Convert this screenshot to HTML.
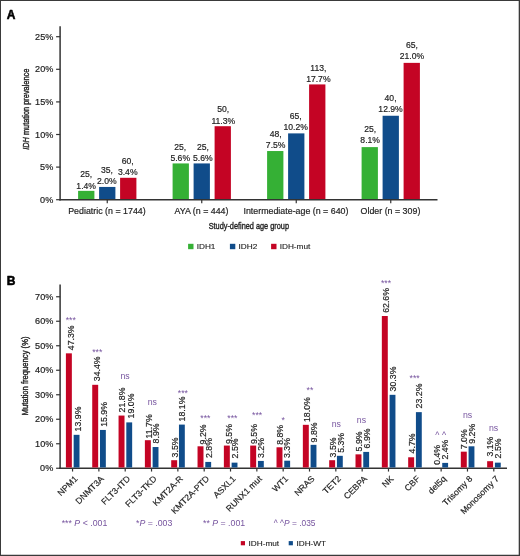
<!DOCTYPE html>
<html><head><meta charset="utf-8"><title>Figure</title>
<style>
html,body{margin:0;padding:0;background:#fff;}
body{width:520px;height:556px;overflow:hidden;position:relative;font-family:"Liberation Sans",sans-serif;}
svg{position:absolute;left:0;top:0;display:block;will-change:transform;opacity:0.999}
text{font-family:"Liberation Sans",sans-serif;fill:#222;}
.t{font-size:8.6px;stroke:#222;stroke-width:0.18px;}
.l{font-size:8px;stroke:#222;stroke-width:0.12px;}
.c{font-size:9.7px;stroke:#222;stroke-width:0.38px;}
.p{font-size:12px;font-weight:bold;fill:#000;stroke:#000;stroke-width:0.55px;stroke-linejoin:round;}
.s{font-size:8.6px;fill:#77559f;}
</style></head><body>
<svg width="520" height="556" viewBox="0 0 520 556">
<rect x="0" y="0" width="520" height="556" fill="#fff"/>
<line x1="60.1" y1="26.2" x2="60.1" y2="200.45" stroke="#333" stroke-width="1.5"/>
<line x1="59.35" y1="199.7" x2="437.5" y2="199.7" stroke="#333" stroke-width="1.5"/>
<line x1="56.1" y1="199.70" x2="60.1" y2="199.70" stroke="#333" stroke-width="1.2"/>
<text transform="translate(53.30,202.80) scale(1.06,1)" text-anchor="end" class="t">0%</text>
<line x1="56.1" y1="167.10" x2="60.1" y2="167.10" stroke="#333" stroke-width="1.2"/>
<text transform="translate(53.30,170.20) scale(1.06,1)" text-anchor="end" class="t">5%</text>
<line x1="56.1" y1="134.50" x2="60.1" y2="134.50" stroke="#333" stroke-width="1.2"/>
<text transform="translate(53.30,137.60) scale(1.06,1)" text-anchor="end" class="t">10%</text>
<line x1="56.1" y1="101.90" x2="60.1" y2="101.90" stroke="#333" stroke-width="1.2"/>
<text transform="translate(53.30,105.00) scale(1.06,1)" text-anchor="end" class="t">15%</text>
<line x1="56.1" y1="69.30" x2="60.1" y2="69.30" stroke="#333" stroke-width="1.2"/>
<text transform="translate(53.30,72.40) scale(1.06,1)" text-anchor="end" class="t">20%</text>
<line x1="56.1" y1="36.70" x2="60.1" y2="36.70" stroke="#333" stroke-width="1.2"/>
<text transform="translate(53.30,39.80) scale(1.06,1)" text-anchor="end" class="t">25%</text>
<line x1="107.25" y1="199.7" x2="107.25" y2="203.2" stroke="#333" stroke-width="1.2"/>
<text transform="translate(106.95,213.90) scale(1.03,1)" text-anchor="middle" class="t">Pediatric (n = 1744)</text>
<rect x="78.10" y="190.86" width="16.3" height="8.14" fill="#35b035"/>
<text transform="translate(86.15,177.40) scale(1.0,1)" text-anchor="middle" class="t">25,</text>
<text transform="translate(86.15,188.50) scale(1.0,1)" text-anchor="middle" class="t">1.4%</text>
<rect x="99.10" y="186.94" width="16.3" height="12.06" fill="#104c8a"/>
<text transform="translate(106.85,173.40) scale(1.0,1)" text-anchor="middle" class="t">35,</text>
<text transform="translate(106.85,184.20) scale(1.0,1)" text-anchor="middle" class="t">2.0%</text>
<rect x="120.10" y="177.80" width="16.3" height="21.20" fill="#c40424"/>
<text transform="translate(127.75,164.20) scale(1.0,1)" text-anchor="middle" class="t">60,</text>
<text transform="translate(127.75,174.60) scale(1.0,1)" text-anchor="middle" class="t">3.4%</text>
<line x1="201.75" y1="199.7" x2="201.75" y2="203.2" stroke="#333" stroke-width="1.2"/>
<text transform="translate(201.45,213.90) scale(1.03,1)" text-anchor="middle" class="t">AYA (n = 444)</text>
<rect x="172.60" y="163.43" width="16.3" height="35.57" fill="#35b035"/>
<text transform="translate(180.25,149.70) scale(1.0,1)" text-anchor="middle" class="t">25,</text>
<text transform="translate(180.25,160.50) scale(1.0,1)" text-anchor="middle" class="t">5.6%</text>
<rect x="193.60" y="163.43" width="16.3" height="35.57" fill="#104c8a"/>
<text transform="translate(202.85,149.70) scale(1.0,1)" text-anchor="middle" class="t">25,</text>
<text transform="translate(202.85,160.50) scale(1.0,1)" text-anchor="middle" class="t">5.6%</text>
<rect x="214.60" y="126.21" width="16.3" height="72.79" fill="#c40424"/>
<text transform="translate(223.25,112.20) scale(1.0,1)" text-anchor="middle" class="t">50,</text>
<text transform="translate(223.25,123.50) scale(1.0,1)" text-anchor="middle" class="t">11.3%</text>
<line x1="296.25" y1="199.7" x2="296.25" y2="203.2" stroke="#333" stroke-width="1.2"/>
<text transform="translate(295.95,213.90) scale(1.03,1)" text-anchor="middle" class="t">Intermediate-age (n = 640)</text>
<rect x="267.10" y="151.03" width="16.3" height="47.98" fill="#35b035"/>
<text transform="translate(275.65,137.30) scale(1.0,1)" text-anchor="middle" class="t">48,</text>
<text transform="translate(275.65,147.60) scale(1.0,1)" text-anchor="middle" class="t">7.5%</text>
<rect x="288.10" y="133.39" width="16.3" height="65.61" fill="#104c8a"/>
<text transform="translate(295.75,119.40) scale(1.0,1)" text-anchor="middle" class="t">65,</text>
<text transform="translate(295.75,129.60) scale(1.0,1)" text-anchor="middle" class="t">10.2%</text>
<rect x="309.10" y="84.42" width="16.3" height="114.58" fill="#c40424"/>
<text transform="translate(318.35,70.80) scale(1.0,1)" text-anchor="middle" class="t">113,</text>
<text transform="translate(318.35,81.60) scale(1.0,1)" text-anchor="middle" class="t">17.7%</text>
<line x1="390.75" y1="199.7" x2="390.75" y2="203.2" stroke="#333" stroke-width="1.2"/>
<text transform="translate(390.45,213.90) scale(1.03,1)" text-anchor="middle" class="t">Older (n = 309)</text>
<rect x="361.60" y="147.11" width="16.3" height="51.89" fill="#35b035"/>
<text transform="translate(370.15,132.30) scale(1.0,1)" text-anchor="middle" class="t">25,</text>
<text transform="translate(370.15,142.80) scale(1.0,1)" text-anchor="middle" class="t">8.1%</text>
<rect x="382.60" y="115.76" width="16.3" height="83.24" fill="#104c8a"/>
<text transform="translate(390.55,100.80) scale(1.0,1)" text-anchor="middle" class="t">40,</text>
<text transform="translate(390.55,111.85) scale(1.0,1)" text-anchor="middle" class="t">12.9%</text>
<rect x="403.60" y="62.87" width="16.3" height="136.13" fill="#c40424"/>
<text transform="translate(411.95,47.60) scale(1.0,1)" text-anchor="middle" class="t">65,</text>
<text transform="translate(411.95,58.85) scale(1.0,1)" text-anchor="middle" class="t">21.0%</text>
<text transform="translate(29.00,109.25) rotate(-90) scale(0.762,1)" text-anchor="middle" class="c"><tspan font-style="italic">IDH</tspan> mutation prevalence</text>
<text transform="translate(248.80,229.00) scale(0.757,1)" text-anchor="middle" class="c">Study-defined age group</text>
<rect x="188.1" y="243.80" width="5.4" height="5.4" fill="#35b035"/>
<text transform="translate(196.70,249.30) scale(1.03,1)" class="l">IDH1</text>
<rect x="229.9" y="243.80" width="5.4" height="5.4" fill="#104c8a"/>
<text transform="translate(238.50,249.30) scale(1.03,1)" class="l">IDH2</text>
<rect x="271.1" y="243.80" width="5.4" height="5.4" fill="#c40424"/>
<text transform="translate(279.70,249.30) scale(1.03,1)" class="l">IDH-mut</text>
<text x="6.8" y="18.7" class="p">A</text>
<text x="6.8" y="285.2" class="p">B</text>
<line x1="60.1" y1="284.5" x2="60.1" y2="469.0" stroke="#333" stroke-width="1.5"/>
<line x1="59.35" y1="468.25" x2="507" y2="468.25" stroke="#333" stroke-width="1.5"/>
<line x1="56.1" y1="468.25" x2="60.1" y2="468.25" stroke="#333" stroke-width="1.2"/>
<text transform="translate(53.30,471.35) scale(1.06,1)" text-anchor="end" class="t">0%</text>
<line x1="56.1" y1="443.75" x2="60.1" y2="443.75" stroke="#333" stroke-width="1.2"/>
<text transform="translate(53.30,446.85) scale(1.06,1)" text-anchor="end" class="t">10%</text>
<line x1="56.1" y1="419.25" x2="60.1" y2="419.25" stroke="#333" stroke-width="1.2"/>
<text transform="translate(53.30,422.35) scale(1.06,1)" text-anchor="end" class="t">20%</text>
<line x1="56.1" y1="394.75" x2="60.1" y2="394.75" stroke="#333" stroke-width="1.2"/>
<text transform="translate(53.30,397.85) scale(1.06,1)" text-anchor="end" class="t">30%</text>
<line x1="56.1" y1="370.25" x2="60.1" y2="370.25" stroke="#333" stroke-width="1.2"/>
<text transform="translate(53.30,373.35) scale(1.06,1)" text-anchor="end" class="t">40%</text>
<line x1="56.1" y1="345.75" x2="60.1" y2="345.75" stroke="#333" stroke-width="1.2"/>
<text transform="translate(53.30,348.85) scale(1.06,1)" text-anchor="end" class="t">50%</text>
<line x1="56.1" y1="321.25" x2="60.1" y2="321.25" stroke="#333" stroke-width="1.2"/>
<text transform="translate(53.30,324.35) scale(1.06,1)" text-anchor="end" class="t">60%</text>
<line x1="56.1" y1="296.75" x2="60.1" y2="296.75" stroke="#333" stroke-width="1.2"/>
<text transform="translate(53.30,299.85) scale(1.06,1)" text-anchor="end" class="t">70%</text>
<rect x="65.90" y="353.34" width="5.95" height="114.16" fill="#c40424"/>
<rect x="73.65" y="434.83" width="5.85" height="32.67" fill="#104c8a"/>
<line x1="72.55" y1="468.25" x2="72.55" y2="471.55" stroke="#333" stroke-width="1.2"/>
<text transform="translate(73.65,350.20) rotate(-90) scale(1.02,1)" class="t">47.3%</text>
<text transform="translate(80.60,431.40) rotate(-90) scale(1.02,1)" class="t">13.9%</text>
<text transform="translate(78.15,479.30) rotate(-45) scale(1.02,1)" text-anchor="end" class="t">NPM1</text>
<text transform="translate(70.75,323.40) scale(1.02,1)" text-anchor="middle" class="s">***</text>
<rect x="92.23" y="384.81" width="5.95" height="82.69" fill="#c40424"/>
<rect x="99.98" y="429.95" width="5.85" height="37.55" fill="#104c8a"/>
<line x1="98.88" y1="468.25" x2="98.88" y2="471.55" stroke="#333" stroke-width="1.2"/>
<text transform="translate(100.40,381.20) rotate(-90) scale(1.02,1)" class="t">34.4%</text>
<text transform="translate(107.40,426.80) rotate(-90) scale(1.02,1)" class="t">15.9%</text>
<text transform="translate(104.48,479.30) rotate(-45) scale(1.02,1)" text-anchor="end" class="t">DNMT3A</text>
<text transform="translate(97.25,355.15) scale(1.02,1)" text-anchor="middle" class="s">***</text>
<rect x="118.56" y="415.56" width="5.95" height="51.94" fill="#c40424"/>
<rect x="126.31" y="422.39" width="5.85" height="45.11" fill="#104c8a"/>
<line x1="125.21" y1="468.25" x2="125.21" y2="471.55" stroke="#333" stroke-width="1.2"/>
<text transform="translate(125.40,412.40) rotate(-90) scale(1.02,1)" class="t">21.8%</text>
<text transform="translate(134.00,418.40) rotate(-90) scale(1.02,1)" class="t">19.0%</text>
<text transform="translate(130.81,479.30) rotate(-45) scale(1.02,1)" text-anchor="end" class="t">FLT3-ITD</text>
<text transform="translate(125.00,379.00) scale(1.02,1)" text-anchor="middle" class="s">ns</text>
<rect x="144.88" y="440.20" width="5.95" height="27.30" fill="#c40424"/>
<rect x="152.63" y="447.03" width="5.85" height="20.47" fill="#104c8a"/>
<line x1="151.53" y1="468.25" x2="151.53" y2="471.55" stroke="#333" stroke-width="1.2"/>
<text transform="translate(152.00,438.40) rotate(-90) scale(1.02,1)" class="t">11.7%</text>
<text transform="translate(159.40,443.40) rotate(-90) scale(1.02,1)" class="t">8.9%</text>
<text transform="translate(157.13,479.30) rotate(-45) scale(1.02,1)" text-anchor="end" class="t">FLT3-TKD</text>
<text transform="translate(152.25,404.50) scale(1.02,1)" text-anchor="middle" class="s">ns</text>
<rect x="171.21" y="460.21" width="5.95" height="7.29" fill="#c40424"/>
<rect x="178.96" y="424.59" width="5.85" height="42.91" fill="#104c8a"/>
<line x1="177.86" y1="468.25" x2="177.86" y2="471.55" stroke="#333" stroke-width="1.2"/>
<text transform="translate(177.60,457.40) rotate(-90) scale(1.02,1)" class="t">3.5%</text>
<text transform="translate(185.00,421.40) rotate(-90) scale(1.02,1)" class="t">18.1%</text>
<text transform="translate(183.46,479.30) rotate(-45) scale(1.02,1)" text-anchor="end" class="t">KMT2A-R</text>
<text transform="translate(182.90,396.20) scale(1.02,1)" text-anchor="middle" class="s">***</text>
<rect x="197.54" y="446.30" width="5.95" height="21.20" fill="#c40424"/>
<rect x="205.29" y="461.92" width="5.85" height="5.58" fill="#104c8a"/>
<line x1="204.19" y1="468.25" x2="204.19" y2="471.55" stroke="#333" stroke-width="1.2"/>
<text transform="translate(205.60,444.40) rotate(-90) scale(1.02,1)" class="t">9.2%</text>
<text transform="translate(212.00,458.00) rotate(-90) scale(1.02,1)" class="t">2.8%</text>
<text transform="translate(209.79,479.30) rotate(-45) scale(1.02,1)" text-anchor="end" class="t">KMT2A-PTD</text>
<text transform="translate(205.40,421.40) scale(1.02,1)" text-anchor="middle" class="s">***</text>
<rect x="223.87" y="445.57" width="5.95" height="21.93" fill="#c40424"/>
<rect x="231.62" y="462.65" width="5.85" height="4.85" fill="#104c8a"/>
<line x1="230.52" y1="468.25" x2="230.52" y2="471.55" stroke="#333" stroke-width="1.2"/>
<text transform="translate(231.60,444.00) rotate(-90) scale(1.02,1)" class="t">9.5%</text>
<text transform="translate(238.40,458.40) rotate(-90) scale(1.02,1)" class="t">2.5%</text>
<text transform="translate(236.12,479.30) rotate(-45) scale(1.02,1)" text-anchor="end" class="t">ASXL1</text>
<text transform="translate(232.40,421.40) scale(1.02,1)" text-anchor="middle" class="s">***</text>
<rect x="250.20" y="445.57" width="5.95" height="21.93" fill="#c40424"/>
<rect x="257.95" y="460.94" width="5.85" height="6.56" fill="#104c8a"/>
<line x1="256.85" y1="468.25" x2="256.85" y2="471.55" stroke="#333" stroke-width="1.2"/>
<text transform="translate(257.00,444.00) rotate(-90) scale(1.02,1)" class="t">9.5%</text>
<text transform="translate(264.00,458.00) rotate(-90) scale(1.02,1)" class="t">3.2%</text>
<text transform="translate(262.45,479.30) rotate(-45) scale(1.02,1)" text-anchor="end" class="t">RUNX1 mut</text>
<text transform="translate(257.10,417.65) scale(1.02,1)" text-anchor="middle" class="s">***</text>
<rect x="276.52" y="447.28" width="5.95" height="20.22" fill="#c40424"/>
<rect x="284.27" y="460.70" width="5.85" height="6.80" fill="#104c8a"/>
<line x1="283.17" y1="468.25" x2="283.17" y2="471.55" stroke="#333" stroke-width="1.2"/>
<text transform="translate(282.60,444.80) rotate(-90) scale(1.02,1)" class="t">8.8%</text>
<text transform="translate(290.00,458.00) rotate(-90) scale(1.02,1)" class="t">3.3%</text>
<text transform="translate(288.77,479.30) rotate(-45) scale(1.02,1)" text-anchor="end" class="t">WT1</text>
<text transform="translate(283.20,422.70) scale(1.02,1)" text-anchor="middle" class="s">*</text>
<rect x="302.85" y="424.83" width="5.95" height="42.67" fill="#c40424"/>
<rect x="310.60" y="444.84" width="5.85" height="22.66" fill="#104c8a"/>
<line x1="309.50" y1="468.25" x2="309.50" y2="471.55" stroke="#333" stroke-width="1.2"/>
<text transform="translate(309.60,422.00) rotate(-90) scale(1.02,1)" class="t">18.0%</text>
<text transform="translate(317.00,442.40) rotate(-90) scale(1.02,1)" class="t">9.8%</text>
<text transform="translate(315.10,479.30) rotate(-45) scale(1.02,1)" text-anchor="end" class="t">NRAS</text>
<text transform="translate(310.00,393.40) scale(1.02,1)" text-anchor="middle" class="s">**</text>
<rect x="329.18" y="460.21" width="5.95" height="7.29" fill="#c40424"/>
<rect x="336.93" y="455.82" width="5.85" height="11.68" fill="#104c8a"/>
<line x1="335.83" y1="468.25" x2="335.83" y2="471.55" stroke="#333" stroke-width="1.2"/>
<text transform="translate(335.60,457.40) rotate(-90) scale(1.02,1)" class="t">3.5%</text>
<text transform="translate(343.60,452.80) rotate(-90) scale(1.02,1)" class="t">5.3%</text>
<text transform="translate(341.43,479.30) rotate(-45) scale(1.02,1)" text-anchor="end" class="t">TET2</text>
<text transform="translate(336.30,426.70) scale(1.02,1)" text-anchor="middle" class="s">ns</text>
<rect x="355.51" y="454.35" width="5.95" height="13.15" fill="#c40424"/>
<rect x="363.26" y="451.91" width="5.85" height="15.59" fill="#104c8a"/>
<line x1="362.16" y1="468.25" x2="362.16" y2="471.55" stroke="#333" stroke-width="1.2"/>
<text transform="translate(361.60,451.40) rotate(-90) scale(1.02,1)" class="t">5.9%</text>
<text transform="translate(370.00,448.40) rotate(-90) scale(1.02,1)" class="t">6.9%</text>
<text transform="translate(367.76,479.30) rotate(-45) scale(1.02,1)" text-anchor="end" class="t">CEBPA</text>
<text transform="translate(361.40,423.20) scale(1.02,1)" text-anchor="middle" class="s">ns</text>
<rect x="381.84" y="316.01" width="5.95" height="151.49" fill="#c40424"/>
<rect x="389.59" y="394.82" width="5.85" height="72.68" fill="#104c8a"/>
<line x1="388.49" y1="468.25" x2="388.49" y2="471.55" stroke="#333" stroke-width="1.2"/>
<text transform="translate(388.80,312.80) rotate(-90) scale(1.02,1)" class="t">62.6%</text>
<text transform="translate(396.00,391.40) rotate(-90) scale(1.02,1)" class="t">30.3%</text>
<text transform="translate(394.09,479.30) rotate(-45) scale(1.02,1)" text-anchor="end" class="t">NK</text>
<text transform="translate(386.00,286.40) scale(1.02,1)" text-anchor="middle" class="s">***</text>
<rect x="408.17" y="457.28" width="5.95" height="10.22" fill="#c40424"/>
<rect x="415.92" y="412.14" width="5.85" height="55.36" fill="#104c8a"/>
<line x1="414.82" y1="468.25" x2="414.82" y2="471.55" stroke="#333" stroke-width="1.2"/>
<text transform="translate(414.60,453.40) rotate(-90) scale(1.02,1)" class="t">4.7%</text>
<text transform="translate(422.00,408.40) rotate(-90) scale(1.02,1)" class="t">23.2%</text>
<text transform="translate(420.42,479.30) rotate(-45) scale(1.02,1)" text-anchor="end" class="t">CBF</text>
<text transform="translate(414.60,381.15) scale(1.02,1)" text-anchor="middle" class="s">***</text>
<rect x="434.49" y="467.77" width="5.95" height="-0.27" fill="#c40424"/>
<rect x="442.24" y="462.89" width="5.85" height="4.61" fill="#104c8a"/>
<line x1="441.14" y1="468.25" x2="441.14" y2="471.55" stroke="#333" stroke-width="1.2"/>
<text transform="translate(440.20,464.80) rotate(-90) scale(1.02,1)" class="t">0.4%</text>
<text transform="translate(447.90,459.60) rotate(-90) scale(1.02,1)" class="t">2.4%</text>
<text transform="translate(446.74,479.30) rotate(-45) scale(1.02,1)" text-anchor="end" class="t">del5q</text>
<text transform="translate(440.70,437.90) scale(1.02,1)" text-anchor="middle" class="s">^ ^</text>
<rect x="460.82" y="451.67" width="5.95" height="15.83" fill="#c40424"/>
<rect x="468.57" y="446.30" width="5.85" height="21.20" fill="#104c8a"/>
<line x1="467.47" y1="468.25" x2="467.47" y2="471.55" stroke="#333" stroke-width="1.2"/>
<text transform="translate(466.90,449.20) rotate(-90) scale(1.02,1)" class="t">7.0%</text>
<text transform="translate(475.00,443.70) rotate(-90) scale(1.02,1)" class="t">9.2%</text>
<text transform="translate(473.07,479.30) rotate(-45) scale(1.02,1)" text-anchor="end" class="t">Trisomy 8</text>
<text transform="translate(467.50,417.90) scale(1.02,1)" text-anchor="middle" class="s">ns</text>
<rect x="487.15" y="461.19" width="5.95" height="6.31" fill="#c40424"/>
<rect x="494.90" y="462.65" width="5.85" height="4.85" fill="#104c8a"/>
<line x1="493.80" y1="468.25" x2="493.80" y2="471.55" stroke="#333" stroke-width="1.2"/>
<text transform="translate(493.10,456.60) rotate(-90) scale(1.02,1)" class="t">3.1%</text>
<text transform="translate(500.60,458.40) rotate(-90) scale(1.02,1)" class="t">2.5%</text>
<text transform="translate(499.40,479.30) rotate(-45) scale(1.02,1)" text-anchor="end" class="t">Monosomy 7</text>
<text transform="translate(493.60,431.10) scale(1.02,1)" text-anchor="middle" class="s">ns</text>
<text transform="translate(27.60,376.00) rotate(-90) scale(0.789,1)" text-anchor="middle" class="c">Mutation frequency (%)</text>
<text transform="translate(61.70,525.70) scale(1.02,1)" class="s">*** <tspan font-style="italic">P</tspan> &lt; .001</text>
<text transform="translate(136.00,525.70) scale(1.02,1)" class="s">*<tspan font-style="italic">P</tspan> = .003</text>
<text transform="translate(203.00,525.70) scale(1.02,1)" class="s">** <tspan font-style="italic">P</tspan> = .001</text>
<text transform="translate(273.80,525.70) scale(0.975,1)" class="s">^ ^<tspan font-style="italic">P</tspan> = .035</text>
<rect x="240.8" y="541.10" width="4.2" height="4.2" fill="#c40424"/>
<text transform="translate(248.50,546.00) scale(1.03,1)" class="l">IDH-mut</text>
<rect x="288.7" y="541.10" width="4.2" height="4.2" fill="#104c8a"/>
<text transform="translate(296.40,546.00) scale(1.03,1)" class="l">IDH-WT</text>
<rect x="0" y="0" width="520" height="1" fill="#3a3a3a"/>
<rect x="0" y="0" width="1" height="556" fill="#3a3a3a"/>
<rect x="518.7" y="0" width="1.3" height="556" fill="#3a3a3a"/>
<rect x="0" y="554.75" width="520" height="1.25" fill="#3a3a3a"/>
</svg>
</body></html>
